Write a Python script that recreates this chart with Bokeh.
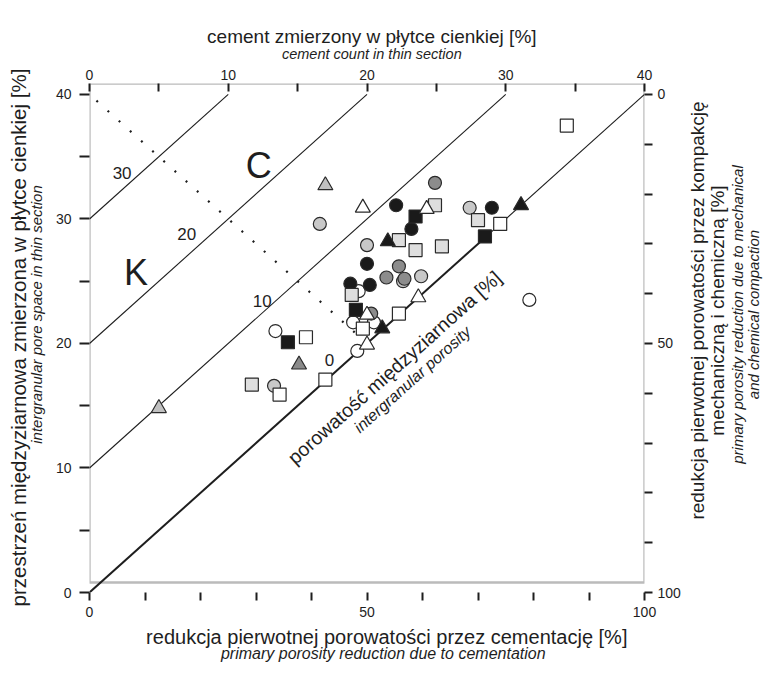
import math
from bokeh.plotting import figure
from bokeh.layouts import column, row
from bokeh.models import Range1d, LinearAxis, FixedTicker, Label, BoxAnnotation
from bokeh.embed import file_html
from bokeh.resources import INLINE

FONT = "Liberation Sans"
INK = "#1e1e1e"

# ---------------- data (x = cement count %, y = intergranular pore space %) ----
open_sq_x = [34.4, 29.6, 22.3, 19.7, 17.0, 15.6, 13.7]
open_sq_y = [37.5, 29.6, 22.4, 21.2, 17.1, 20.5, 15.9]
lgray_sq_x = [24.9, 28.0, 22.3, 23.5, 25.4, 18.9, 11.7]
lgray_sq_y = [31.1, 29.9, 28.3, 27.5, 27.8, 23.9, 16.7]
black_sq_x = [23.5, 28.5, 19.2, 14.3]
black_sq_y = [30.2, 28.6, 22.7, 20.1]

open_ci_x = [31.7, 19.4, 19.0, 20.5, 13.4, 19.3]
open_ci_y = [23.5, 24.2, 21.7, 21.7, 21.0, 19.4]
lgray_ci_x = [16.6, 27.4, 20.0, 23.9, 22.6, 13.3]
lgray_ci_y = [29.6, 30.9, 27.9, 25.4, 25.0, 16.6]
dgray_ci_x = [24.9, 22.3, 21.4, 22.7, 20.3]
dgray_ci_y = [32.9, 26.2, 25.3, 25.2, 22.4]
black_ci_x = [22.1, 29.0, 23.2, 20.0, 18.8, 20.2]
black_ci_y = [31.1, 30.9, 29.2, 26.4, 24.8, 24.7]

open_tr_x = [19.7, 24.3, 20.0, 23.7, 20.0]
open_tr_y = [30.9, 30.8, 22.3, 23.7, 19.9]
lgray_tr_x = [17.0, 5.0]
lgray_tr_y = [32.7, 14.8]
dgray_tr_x = [15.1]
dgray_tr_y = [18.3]
black_tr_x = [31.1, 21.5, 21.1]
black_tr_y = [31.1, 28.2, 21.2]

# intergranular porosity contours (porosity = pore space - cement)
contour_levels = [30, 20, 10]
contour_labels = ["30", "20", "10", "0"]
contour_label_x = [2.35, 7.0, 12.45, 17.3]
contour_label_y = [33.7, 28.8, 23.4, 18.7]
zero_bold_end = 28.5
# compaction = cementation boundary (dotted)
dotted_x = [0.5, 19.5]
dotted_y = [39.5, 20.5]

top_ticks = [0, 10, 20, 30, 40]
top_minor = [5, 15, 25, 35]
bottom_ticks = [0, 50, 100]
bottom_minor = [10, 20, 30, 40, 60, 70, 80, 90]

# ---------------- layout (page pixels) ----------------
PAGE = 8
FR_L, FR_R, FR_T, FR_B = 95, 652, 91, 600      # plot box (y=0 at FR_B)
MAIN_L, MAIN_R, MAIN_T, MAIN_B = 60, 691, 70, 632
TOTAL_R, TOTAL_B = 776, 672
Y_TOP = 40.88
SX = (FR_R - FR_L) / 40.0
SY = (FR_B - FR_T) / Y_TOP

p = figure(width=MAIN_R - MAIN_L, height=MAIN_B - MAIN_T,
           x_range=Range1d(0, 40), y_range=Range1d(0, Y_TOP),
           output_backend="svg", toolbar_location=None,
           min_border_left=FR_L - MAIN_L, min_border_right=MAIN_R - FR_R,
           min_border_top=FR_T - MAIN_T, min_border_bottom=MAIN_B - FR_B,
           x_axis_location=None, y_axis_location=None)
p.outline_line_color = None
p.grid.visible = False

p.extra_x_ranges = {"cem": Range1d(0, 100)}
p.extra_y_ranges = {"comp": Range1d(100, 100 - Y_TOP * 2.5)}

def style_axis(ax, tin, tout, standoff):
    ax.axis_line_color = None
    ax.major_tick_in = tin
    ax.major_tick_out = tout
    ax.minor_tick_in = tin
    ax.minor_tick_out = tout
    ax.major_tick_line_width = 2
    ax.minor_tick_line_width = 2
    ax.major_tick_line_color = INK
    ax.minor_tick_line_color = INK
    ax.major_label_text_font = FONT
    ax.major_label_text_font_size = "14px"
    ax.major_label_text_color = INK
    ax.major_label_standoff = standoff

top = LinearAxis(ticker=FixedTicker(ticks=top_ticks, minor_ticks=top_minor))
style_axis(top, 8, 0, 4)
p.add_layout(top, "above")
left = LinearAxis(ticker=FixedTicker(ticks=top_ticks, minor_ticks=top_minor))
style_axis(left, 0, 10, 8)
p.add_layout(left, "left")
bottom = LinearAxis(x_range_name="cem", ticker=FixedTicker(ticks=bottom_ticks, minor_ticks=bottom_minor))
style_axis(bottom, 0, 8, 6)
p.add_layout(bottom, "below")
right = LinearAxis(y_range_name="comp", ticker=FixedTicker(ticks=bottom_ticks, minor_ticks=bottom_minor))
style_axis(right, 0, 8, 5)
p.add_layout(right, "right")

p.add_layout(BoxAnnotation(left=0, right=40, bottom=0.8, top=Y_TOP, fill_alpha=0,
                           line_color=INK, line_width=2.4))

# contour lines
p.multi_line(xs=[[0, 40 - lv] for lv in contour_levels],
             ys=[[lv, 40] for lv in contour_levels], line_color=INK, line_width=1.1)
p.line([0, zero_bold_end], [0, zero_bold_end], line_color=INK, line_width=2)
p.line([zero_bold_end, 40], [zero_bold_end, 40], line_color=INK, line_width=1.1)
p.line(dotted_x, dotted_y, line_color=INK, line_width=2.2, line_dash="2 13")

for t, x, y in zip(contour_labels, contour_label_x, contour_label_y):
    p.add_layout(Label(x=x, y=y, text=t, text_font=FONT, text_font_size="17px",
                       text_color=INK, text_align="center", text_baseline="middle"))
for t, x, y in [("C", 12.2, 34.3), ("K", 3.35, 25.7)]:
    p.add_layout(Label(x=x, y=y, text=t, text_font=FONT, text_font_size="36px",
                       text_color=INK, text_align="center", text_baseline="middle"))

def dx(px):
    return (px - FR_L) / SX

def dy(py):
    return (FR_B - py) / SY

ang = math.atan2(SY, SX)
p.add_layout(Label(x=dx(401), y=dy(375), text="porowatość międzyziarnowa [%]", angle=ang,
                   text_font=FONT, text_font_size="19.5px", text_color=INK,
                   text_align="center", text_baseline="middle"))
p.add_layout(Label(x=dx(419), y=dy(387), text="intergranular porosity", angle=ang,
                   text_font=FONT, text_font_size="16px", text_font_style="italic", text_color=INK,
                   text_align="center", text_baseline="middle"))

# markers
LW = 1.2
def pts(xs, ys, marker, fill, size):
    p.scatter(xs, ys, marker=marker, size=size, fill_color=fill, line_color="#2a2a2a", line_width=LW)

pts(open_ci_x, open_ci_y, "circle", "white", 13)
pts(lgray_ci_x, lgray_ci_y, "circle", "#c8c8c8", 13)
pts(dgray_ci_x, dgray_ci_y, "circle", "#8c8c8c", 13)
pts(black_ci_x, black_ci_y, "circle", "#1a1a1a", 13)
pts(open_sq_x, open_sq_y, "square", "white", 13)
pts(lgray_sq_x, lgray_sq_y, "square", "#dedede", 13)
pts(black_sq_x, black_sq_y, "square", "#1a1a1a", 13)
pts(open_tr_x, open_tr_y, "triangle", "white", 15)
pts(lgray_tr_x, lgray_tr_y, "triangle", "#c0c0c0", 15)
pts(dgray_tr_x, dgray_tr_y, "triangle", "#8a8a8a", 15)
pts(black_tr_x, black_tr_y, "triangle", "#1a1a1a", 15)

# ---------------- title strips ----------------
def strip(ox, oy, w, h):
    f = figure(width=w, height=h, x_range=Range1d(0, w), y_range=Range1d(0, h),
               output_backend="svg", toolbar_location=None, min_border=0,
               x_axis_location=None, y_axis_location=None)
    f.outline_line_color = None
    f.grid.visible = False
    f._origin = (ox, oy, h)
    return f

def put(f, px, py, text, size, italic=False, angle=0.0):
    ox, oy, h = f._origin
    f.add_layout(Label(x=px - ox, y=h - (py - oy), text=text, angle=angle, text_font=FONT,
                       text_font_size=size, text_font_style="italic" if italic else "normal",
                       text_color=INK, text_align="center", text_baseline="middle"))

top_strip = strip(MAIN_L, PAGE, MAIN_R - MAIN_L, MAIN_T - PAGE)
put(top_strip, 381, 44, "cement zmierzony w płytce cienkiej [%]", "19px")
put(top_strip, 381, 61, "cement count in thin section", "14.5px", True)

left_strip = strip(PAGE, PAGE, MAIN_L - PAGE, TOTAL_B - PAGE)
put(left_strip, 26, 345, "przestrzeń międzyziarnowa zmierzona w płytce cienkiej [%]", "20.5px", angle=math.pi / 2)
put(left_strip, 44, 322, "intergranular pore space in thin section", "15px", True, angle=math.pi / 2)

right_strip = strip(MAIN_R, PAGE, TOTAL_R - MAIN_R, TOTAL_B - PAGE)
put(right_strip, 705, 318, "redukcja pierwotnej porowatości przez kompakcję", "19px", angle=math.pi / 2)
put(right_strip, 725, 318, "mechaniczną i chemiczną [%]", "19px", angle=math.pi / 2)
put(right_strip, 745, 322, "primary porosity reduction due to mechanical", "15px", True, angle=math.pi / 2)
put(right_strip, 761, 322, "and chemical compaction", "15px", True, angle=math.pi / 2)

bottom_strip = strip(MAIN_L, MAIN_B, MAIN_R - MAIN_L, TOTAL_B - MAIN_B)
put(bottom_strip, 398, 644, "redukcja pierwotnej porowatości przez cementację [%]", "20px")
put(bottom_strip, 394, 661, "primary porosity reduction due to cementation", "16px", True)

layout = row(left_strip, column(top_strip, p, bottom_strip), right_strip)
open("out.html", "w").write(file_html(layout, INLINE))
